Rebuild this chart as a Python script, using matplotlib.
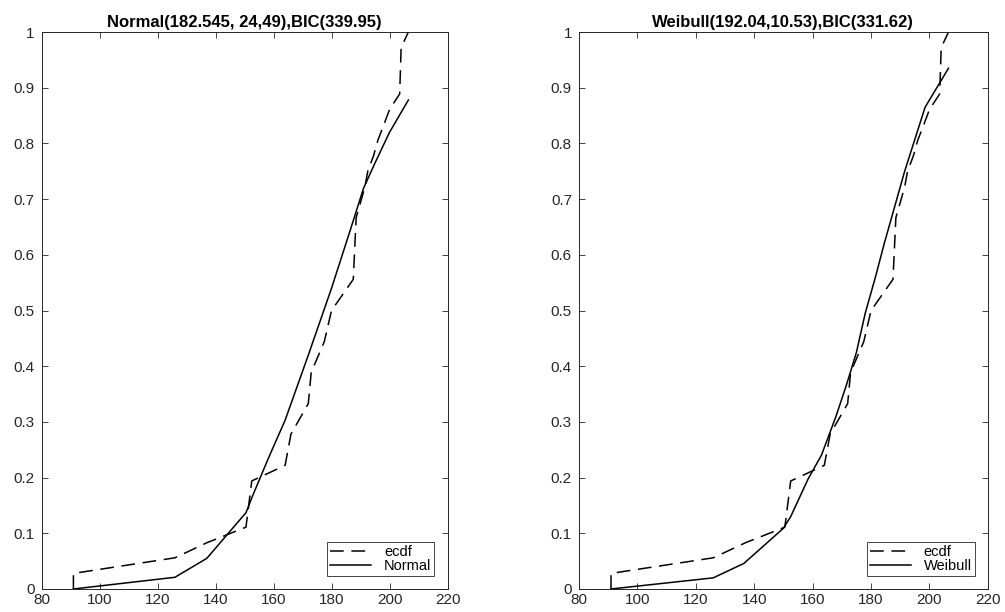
import numpy as np
import matplotlib
matplotlib.use("Agg")
import matplotlib.pyplot as plt

plt.rcParams['font.family'] = ['Liberation Sans', 'DejaVu Sans']

# ---------- dados ----------
# ecdf (mesma amostra nos dois painéis), pontos ligados como no plot do MATLAB
ecdf_x = [91, 91, 126, 137, 150.5, 152.5, 164, 166, 172, 173, 177.5, 180,
          187.5, 188.5, 190, 191.5, 192.5, 194.5, 196, 198, 200, 203.5, 204, 206.5]
ecdf_f = [0.0, 0.028, 0.056, 0.083, 0.111, 0.194, 0.222, 0.278, 0.333, 0.389,
          0.444, 0.5, 0.556, 0.667, 0.694, 0.722, 0.75, 0.778, 0.806, 0.833,
          0.861, 0.889, 0.972, 1.0]

# cdf Normal ajustada
normal_x = [91, 126, 137, 150.5, 153, 158.5, 164, 172, 180, 186.5, 191, 195, 200, 206.5]
normal_f = [0.0, 0.021, 0.055, 0.137, 0.17, 0.238, 0.303, 0.42, 0.54, 0.645,
            0.719, 0.765, 0.82, 0.878]

# cdf Weibull ajustada
weibull_x = [91, 126, 136.5, 150, 152.5, 158.5, 163, 168, 171.5, 175, 178,
             181.5, 184.5, 191.5, 198.5, 206.5]
weibull_f = [0.0, 0.02, 0.046, 0.109, 0.13, 0.198, 0.24, 0.31, 0.365, 0.425,
             0.495, 0.56, 0.62, 0.75, 0.865, 0.935]

titles = ['Normal(182.545, 24,49),BIC(339.95)', 'Weibull(192.04,10.53),BIC(331.62)']
fit_labels = ['Normal', 'Weibull']
x_ticks = [80, 100, 120, 140, 160, 180, 200, 220]
y_ticks = [0, 0.1, 0.2, 0.3, 0.4, 0.5, 0.6, 0.7, 0.8, 0.9, 1]
y_ticklabels = ['0', '0.1', '0.2', '0.3', '0.4', '0.5', '0.6', '0.7', '0.8', '0.9', '1']

AXC = '#262626'

fig = plt.figure(figsize=(10.05, 6.12), dpi=100)
ax1 = fig.add_axes([0.0413, 0.0376, 0.404, 0.910])
ax2 = fig.add_axes([0.576, 0.0376, 0.407, 0.910])

fits = [(normal_x, normal_f), (weibull_x, weibull_f)]

for ax, title, lab, (fx, ff) in zip([ax1, ax2], titles, fit_labels, fits):
    ax.plot(ecdf_x, ecdf_f, color='black', lw=1.1, linestyle=(0, (9, 5)), label='ecdf')
    ax.plot(fx, ff, color='black', lw=1.1, label=lab)
    ax.set_xlim(80, 220)
    ax.set_ylim(0, 1)
    ax.set_xticks(x_ticks)
    ax.set_yticks(y_ticks)
    ax.set_yticklabels(y_ticklabels)
    ax.tick_params(direction='in', length=4, width=0.6, colors=AXC,
                   labelsize=11, top=True, right=True)
    ax.tick_params(axis='y', pad=5)
    ax.tick_params(axis='x', pad=3)
    for s in ax.spines.values():
        s.set_color(AXC)
        s.set_linewidth(0.7)
    ax.set_title(title, fontsize=12, fontweight='bold', pad=4)
    leg = ax.legend(loc='lower right', fontsize=10.5, frameon=True, fancybox=False,
                    framealpha=1, edgecolor=AXC, handlelength=2.8,
                    labelspacing=0.0, borderpad=0.2, handletextpad=0.9,
                    borderaxespad=0.9)
    leg.get_frame().set_linewidth(0.6)

fig.savefig('out.png', dpi=100)
